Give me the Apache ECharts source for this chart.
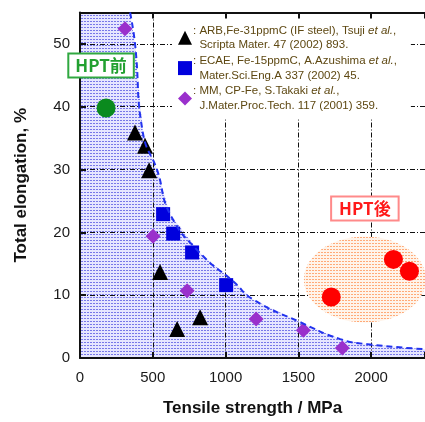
<!DOCTYPE html>
<html>
<head>
<meta charset="utf-8">
<script src="https://cdn.jsdelivr.net/npm/echarts@6/dist/echarts.min.js"></script>
<style>
html, body { margin: 0; padding: 0; background: #fff; }
#main { width: 425px; height: 422px; }
</style>
</head>
<body>
<div id="main"></div>
<script>
// data: [tensile strength MPa, elongation %]
var arbPoints = [[378, 35.9], [447, 33.8], [475, 29.9], [550, 13.7], [667, 4.6], [825, 6.5]];
var ecaePoints = [[571, 22.9], [640, 19.8], [770, 16.8], [1004, 11.6]];
var mmPoints = [[309, 52.4], [502, 19.4], [736, 10.7], [1210, 6.2], [1534, 4.4], [1802, 1.6]];
var beforePoint = [[179, 39.8]];
var afterPoints = [[1726, 9.7], [2153, 15.7], [2263, 13.8]];
var afterZone = [[1957, 12.5]];
var boundary = [[344, 55], [378, 50], [433, 35.7], [530, 29.9], [619, 22.9], [825, 16.7], [1052, 12.2],
    [1190, 9.3], [1513, 5.7], [1788, 3.0], [1974, 2.2], [2370, 1.4]];
var boundaryFill = [[0, 55]].concat(boundary);
var xTicks = [0, 500, 1000, 1500, 2000];
var yTicks = [0, 10, 20, 30, 40, 50];
var legendNames = ['ARB', 'ECAE', 'MM'];
var legendTexts = [
    ': ARB,Fe-31ppmC (IF steel), Tsuji {i|et al.},\n  Scripta Mater. 47 (2002) 893.',
    ': ECAE, Fe-15ppmC, A.Azushima {i|et al.},\n  Mater.Sci.Eng.A 337 (2002) 45.',
    ': MM, CP-Fe, S.Takaki {i|et al.},\n  J.Mater.Proc.Tech. 117 (2001) 359.'
];

function makePattern(bg, dot, w, h) {
    var c = document.createElement('canvas');
    c.width = w; c.height = h;
    var ctx = c.getContext('2d');
    ctx.fillStyle = bg;
    ctx.fillRect(0, 0, w, h);
    ctx.fillStyle = dot;
    ctx.fillRect(0, 0, w - 1, 1);
    return c;
}

var chart = echarts.init(document.getElementById('main'));
var font = 'Liberation Sans, Arial, sans-serif';
var gridDash = { color: '#111', width: 1, type: [5, 2, 1, 2] };
var orangeDots = makePattern('rgb(255,244,234)', 'rgb(255,170,120)', 3, 3);

// ellipse zone drawn around a data centre
function renderZone(params, api) {
    var c = api.coord([api.value(0), api.value(1)]);
    var rx = 61, ry = 43, pts = [];
    for (var i = 0; i < 72; i++) {
        var a = i / 72 * Math.PI * 2;
        pts.push([c[0] + rx * Math.cos(a), c[1] + ry * Math.sin(a)]);
    }
    return {
        type: 'polygon',
        shape: { points: pts },
        style: { fill: { image: orangeDots, repeat: 'repeat' } },
        textContent: {
            type: 'text',
            style: {
                text: 'HPT後', fontFamily: 'Noto Sans CJK JP', fontSize: 17, fontWeight: 'bold',
                fill: '#ff1a1a', backgroundColor: '#fff', borderColor: '#ff8a8a', borderWidth: 2,
                padding: [3, 7, 2, 7]
            }
        },
        textConfig: { position: 'top', distance: 17 }
    };
}

chart.setOption({
    animation: false,
    textStyle: { fontFamily: font },
    grid: { left: 80, top: 12.5, bottom: 63, right: 0 },
    legend: {
        data: legendNames,
        orient: 'vertical',
        left: 172,
        top: 19,
        padding: [4, 14, 6, 6],
        backgroundColor: '#fff',
        itemWidth: 14,
        itemHeight: 14,
        itemGap: 1,
        textStyle: {
            fontSize: 11.5, color: '#5e4812', lineHeight: 14.7, padding: [0, 0, 0, -4],
            rich: { i: { fontStyle: 'italic', fontSize: 11.5, color: '#5e4812', lineHeight: 14.7 } }
        },
        formatter: function (name) { return legendTexts[legendNames.indexOf(name)]; }
    },
    xAxis: [{
        type: 'value', min: 0, max: 2370, interval: 500,
        name: 'Tensile strength / MPa', nameLocation: 'middle', nameGap: 42,
        nameTextStyle: { fontSize: 17, color: '#111', fontWeight: 'bold' },
        axisLine: { lineStyle: { color: '#111', width: 2 } },
        axisTick: { inside: true, length: 6, lineStyle: { color: '#111', width: 2 } },
        axisLabel: { fontSize: 15, color: '#1a1a1a', margin: 12, customValues: xTicks,
            formatter: function (v) { return String(v); } },
        splitLine: { show: true, lineStyle: gridDash }
    }, {
        type: 'value', position: 'top', min: 0, max: 2370, interval: 500,
        axisLine: { show: true, lineStyle: { color: '#111', width: 2 } },
        axisTick: { show: true, inside: true, length: 6, lineStyle: { color: '#111', width: 2 } },
        axisLabel: { show: false },
        splitLine: { show: false }
    }],
    yAxis: {
        type: 'value', min: 0, max: 55, interval: 10,
        name: 'Total elongation, %', nameLocation: 'middle', nameGap: 50,
        nameTextStyle: { fontSize: 17, color: '#111', fontWeight: 'bold' },
        axisLine: { show: true, lineStyle: { color: '#111', width: 2 } },
        axisTick: { show: true, inside: true, length: 6, lineStyle: { color: '#111', width: 2 } },
        axisLabel: { fontSize: 15, color: '#1a1a1a', margin: 10, customValues: yTicks },
        splitLine: { show: true, lineStyle: gridDash }
    },
    series: [
        {
            // hatched region under the boundary
            type: 'line', data: boundaryFill, symbol: 'none', z: -1, silent: true,
            lineStyle: { width: 0 },
            areaStyle: { opacity: 1, color: { image: makePattern('rgb(230,230,255)', 'rgb(120,120,232)', 3, 3), repeat: 'repeat' } }
        },
        {
            type: 'line', data: boundary, symbol: 'none', smooth: true,
            lineStyle: { color: '#2233ee', width: 2, type: [6, 4] }
        },
        {
            // HPT後 zone
            type: 'custom', data: afterZone, renderItem: renderZone, z: 1, silent: true
        },
        {
            name: 'ARB', type: 'scatter', data: arbPoints, symbol: 'triangle', symbolSize: 16,
            itemStyle: { color: '#000', opacity: 1 }
        },
        {
            name: 'ECAE', type: 'scatter', data: ecaePoints, symbol: 'rect', symbolSize: 14,
            itemStyle: { color: '#0000dd', opacity: 1 }
        },
        {
            name: 'MM', type: 'scatter', data: mmPoints, symbol: 'diamond', symbolSize: 15,
            itemStyle: { color: '#9a30cc', opacity: 1 }
        },
        {
            type: 'scatter', data: beforePoint, symbol: 'circle', symbolSize: 19,
            itemStyle: { color: '#0a8a1e', opacity: 1 },
            label: {
                show: true, position: 'top', distance: 22, offset: [-5, 0], formatter: 'HPT前',
                fontFamily: 'Noto Sans CJK JP', fontSize: 17, fontWeight: 'bold', color: '#22a030',
                backgroundColor: '#fff', borderColor: '#30a840', borderWidth: 2, padding: [3, 6, 2, 6]
            }
        },
        {
            type: 'scatter', data: afterPoints, symbol: 'circle', symbolSize: 19,
            itemStyle: { color: '#ff0000', opacity: 1 }
        }
    ]
});
</script>
</body>
</html>
